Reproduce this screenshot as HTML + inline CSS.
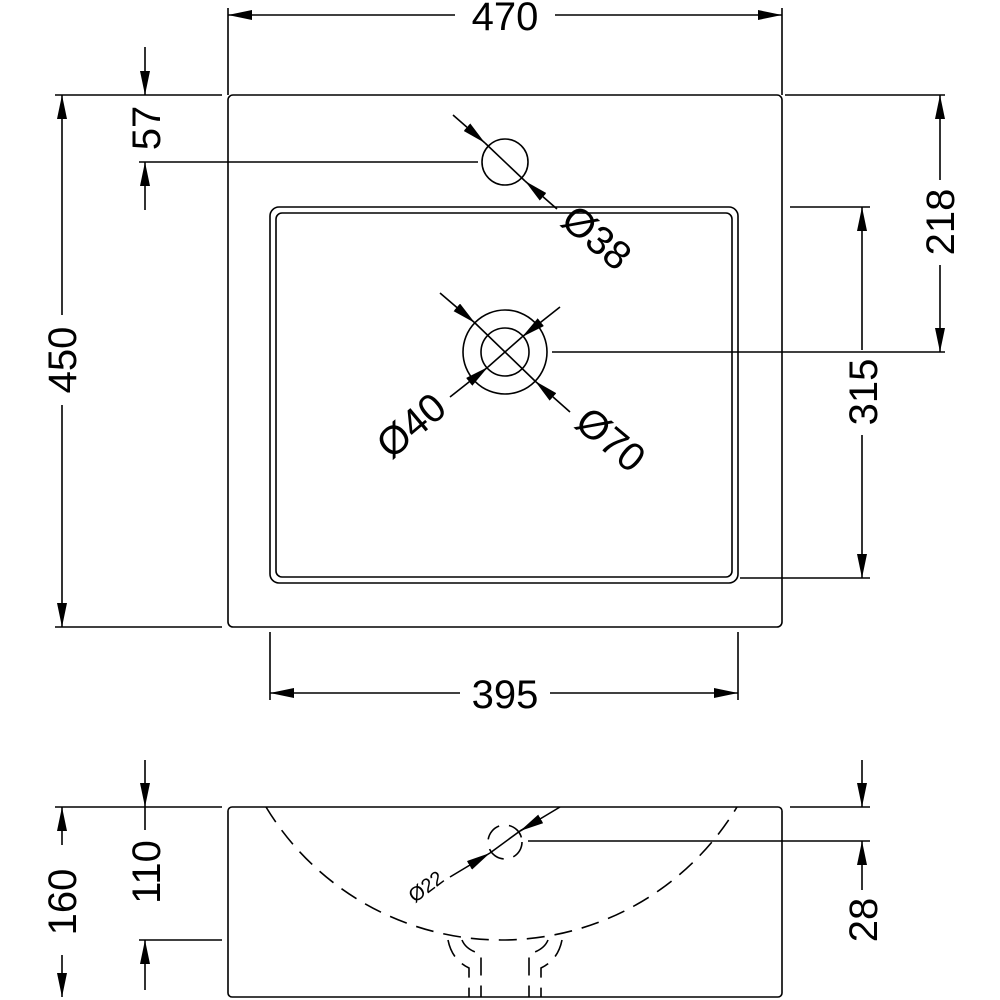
<!DOCTYPE html>
<html><head><meta charset="utf-8"><style>html,body{margin:0;padding:0;background:#fff}svg{display:block}text{font-family:"Liberation Sans",sans-serif;font-size:40px;fill:#000}</style></head><body>
<svg width="1000" height="1000" viewBox="0 0 1000 1000" xmlns="http://www.w3.org/2000/svg">
<defs>
<marker id="a" viewBox="0 0 24 10" refX="24" refY="5" markerWidth="24" markerHeight="10" markerUnits="userSpaceOnUse" orient="auto"><path d="M0,0 L24,5 L0,10 z" fill="#000"/></marker>
</defs>
<g stroke="#000" stroke-width="1.6" fill="none">
<rect x="228" y="95" width="554" height="532" rx="5"/>
<rect x="270" y="207" width="468" height="376" rx="9"/>
<rect x="276" y="213" width="456" height="364" rx="6"/>
<circle cx="505" cy="162" r="23"/>
<circle cx="505" cy="352" r="42"/>
<circle cx="505" cy="352" r="24"/>
<line x1="228" y1="8" x2="228" y2="95"/><line x1="782" y1="8" x2="782" y2="95"/>
<line x1="455" y1="15" x2="228" y2="15" marker-end="url(#a)"/><line x1="555" y1="15" x2="782" y2="15" marker-end="url(#a)"/>
<line x1="55" y1="95" x2="222" y2="95"/><line x1="55" y1="627" x2="222" y2="627"/>
<line x1="62" y1="315" x2="62" y2="95" marker-end="url(#a)"/><line x1="62" y1="405" x2="62" y2="627" marker-end="url(#a)"/>
<line x1="145" y1="47" x2="145" y2="95" marker-end="url(#a)"/><line x1="145" y1="210" x2="145" y2="162" marker-end="url(#a)"/>
<line x1="139" y1="162" x2="478" y2="162"/>
<line x1="453" y1="115" x2="485" y2="143" marker-end="url(#a)"/><line x1="557" y1="209" x2="525" y2="181" marker-end="url(#a)"/>
<line x1="485" y1="143" x2="525" y2="181"/>
<line x1="440" y1="293" x2="475" y2="323" marker-end="url(#a)"/><line x1="570" y1="412" x2="535" y2="381" marker-end="url(#a)"/>
<line x1="475" y1="323" x2="535" y2="381"/>
<line x1="560" y1="307" x2="522" y2="337" marker-end="url(#a)"/><line x1="450" y1="397" x2="488" y2="367" marker-end="url(#a)"/>
<line x1="522" y1="337" x2="488" y2="367"/>
<line x1="552" y1="352" x2="945" y2="352"/>
<line x1="785" y1="95" x2="945" y2="95"/>
<line x1="940" y1="180" x2="940" y2="95" marker-end="url(#a)"/><line x1="940" y1="265" x2="940" y2="352" marker-end="url(#a)"/>
<line x1="790" y1="207" x2="870" y2="207"/><line x1="740" y1="578" x2="870" y2="578"/>
<line x1="862" y1="350" x2="862" y2="207" marker-end="url(#a)"/><line x1="862" y1="435" x2="862" y2="578" marker-end="url(#a)"/>
<line x1="270" y1="632" x2="270" y2="700"/><line x1="738" y1="632" x2="738" y2="700"/>
<line x1="460" y1="693" x2="270" y2="693" marker-end="url(#a)"/><line x1="550" y1="693" x2="738" y2="693" marker-end="url(#a)"/>
<rect x="228" y="807" width="554" height="190" rx="4"/>
<g stroke-dasharray="18,10">
<path d="M266,807 A275,275 0 0 0 737,807"/>
<circle cx="505" cy="842" r="17"/>
<path d="M448,940 Q452,960 469,968 L469,997"/>
<path d="M462,940 Q466,950 481,954 L481,997"/>
<path d="M562,940 Q558,960 541,968 L541,997"/>
<path d="M548,940 Q544,950 529,954 L529,997"/>
</g>
<line x1="560" y1="807" x2="520" y2="831"/>
<line x1="532" y1="824" x2="520" y2="831" marker-end="url(#a)"/>
<line x1="450" y1="877" x2="490" y2="853" marker-end="url(#a)"/>
<line x1="490" y1="853" x2="520" y2="831"/>
<line x1="528" y1="841" x2="870" y2="841"/>
<line x1="55" y1="807" x2="222" y2="807"/>
<line x1="62" y1="845" x2="62" y2="807" marker-end="url(#a)"/><line x1="62" y1="955" x2="62" y2="997" marker-end="url(#a)"/>
<line x1="139" y1="940" x2="222" y2="940"/>
<line x1="145" y1="760" x2="145" y2="807" marker-end="url(#a)"/><line x1="145" y1="990" x2="145" y2="940" marker-end="url(#a)"/>
<line x1="145" y1="807" x2="145" y2="830"/>
<line x1="790" y1="807" x2="870" y2="807"/>
<line x1="862" y1="760" x2="862" y2="807" marker-end="url(#a)"/><line x1="862" y1="890" x2="862" y2="841" marker-end="url(#a)"/>
</g>
<text x="505" y="30" text-anchor="middle">470</text>
<text x="505" y="708" text-anchor="middle">395</text>
<text transform="translate(76,360) rotate(-90)" text-anchor="middle">450</text>
<text transform="translate(160,128) rotate(-90)" text-anchor="middle">57</text>
<text transform="translate(954,222) rotate(-90)" text-anchor="middle">218</text>
<text transform="translate(877,392) rotate(-90)" text-anchor="middle">315</text>
<text transform="translate(76,902) rotate(-90)" text-anchor="middle">160</text>
<text transform="translate(160,872) rotate(-90)" text-anchor="middle">110</text>
<text transform="translate(877,920) rotate(-90)" text-anchor="middle">28</text>
<text transform="translate(588,248) rotate(40)" text-anchor="middle">Ø38</text>
<text transform="translate(602,450) rotate(40)" text-anchor="middle">Ø70</text>
<text transform="translate(420,436) rotate(-40)" text-anchor="middle">Ø40</text>
<text transform="translate(430,892) rotate(-37)" text-anchor="middle" style="font-size:20px">Ø22</text>
</svg>
</body></html>
